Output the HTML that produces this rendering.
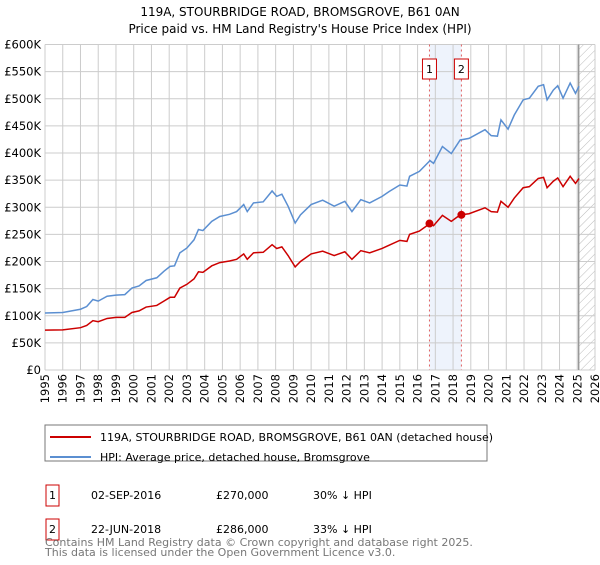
<!DOCTYPE html>
<html><head><meta charset="utf-8"><style>
body{margin:0;background:#fff;font-family:"Liberation Sans","DejaVu Sans",sans-serif;}
svg text{font-family:"DejaVu Sans","Liberation Sans",sans-serif;}
</style></head><body>
<svg id="c" width="600" height="560" xmlns="http://www.w3.org/2000/svg">
<defs><pattern id="hatch" width="6" height="6" patternUnits="userSpaceOnUse" patternTransform="rotate(45)"><line x1="0" y1="0" x2="0" y2="6" stroke="#bbb" stroke-width="1"/></pattern></defs>
<text x="300" y="16" text-anchor="middle" font-size="12" fill="#000">119A, STOURBRIDGE ROAD, BROMSGROVE, B61 0AN</text>
<text x="300" y="33" text-anchor="middle" font-size="12" fill="#000">Price paid vs. HM Land Registry's House Price Index (HPI)</text>
<g id="grid"></g><g id="marks"></g><g id="axes"></g>
<rect x="45" y="425" width="442" height="36" fill="#fff" stroke="#777"/>
<line x1="50" y1="437" x2="91" y2="437" stroke="#cc0000" stroke-width="2"/>
<text x="100" y="441" font-size="11">119A, STOURBRIDGE ROAD, BROMSGROVE, B61 0AN (detached house)</text>
<line x1="50" y1="457" x2="91" y2="457" stroke="#5b8fd1" stroke-width="2"/>
<text x="100" y="461" font-size="11">HPI: Average price, detached house, Bromsgrove</text>
<g>
<rect x="46" y="485" width="13" height="21" fill="#fff" stroke="#cc0000"/><text x="52.5" y="499" font-size="11" text-anchor="middle">1</text>
<text x="91" y="499" font-size="11">02-SEP-2016</text><text x="216" y="499" font-size="11">£270,000</text><text x="313" y="499" font-size="11">30% ↓ HPI</text></g>
<g>
<rect x="46" y="519" width="13" height="21" fill="#fff" stroke="#cc0000"/><text x="52.5" y="533" font-size="11" text-anchor="middle">2</text>
<text x="91" y="533" font-size="11">22-JUN-2018</text><text x="216" y="533" font-size="11">£286,000</text><text x="313" y="533" font-size="11">33% ↓ HPI</text></g>
<text x="45" y="546" font-size="11" fill="#777">Contains HM Land Registry data © Crown copyright and database right 2025.</text>
<text x="45" y="556" font-size="11" fill="#777">This data is licensed under the Open Government Licence v3.0.</text>
</svg>
<script>
const hpiYears=[1995,1996,1997,1997.35,1997.7,1998,1998.5,1999,1999.5,1999.9,2000.3,2000.7,2001.3,2001.7,2002.05,2002.3,2002.6,2003,2003.4,2003.65,2003.9,2004.4,2004.85,2005.4,2005.8,2006.2,2006.4,2006.75,2007.3,2007.8,2008.06,2008.35,2008.7,2009.1,2009.4,2010,2010.65,2011.3,2011.9,2012.3,2012.8,2013.3,2014,2014.4,2015,2015.4,2015.55,2016.1,2016.7,2016.9,2017.4,2017.9,2018.4,2018.9,2019.8,2020.15,2020.5,2020.7,2021.1,2021.45,2021.95,2022.3,2022.8,2023.1,2023.3,2023.65,2023.9,2024.2,2024.6,2024.9,2025.1];
const hpiValues=[105,106,112,117,130,127,136,138,139,151,155,165,170,182,191,192,216,225,240,259,257,274,283,287,292,305,292,308,310,330,320,324,302,271,286,305,313,302,311,292,314,308,320,329,341,339,357,366,386,381,412,399,424,427,443,432,431,461,444,470,498,501,523,526,498,516,524,501,529,510,523];
const propValues=[73.5,74,78,82,91,89,95,97,97,106,109,116,119,127,134,134,151,158,168,181,180,192,198,201,204,214,204,216,217,231,224,227,211,190,200,214,219,211,218,204,220,216,224,230,239,237,250,256,270,266,285,274,286,288,299,292,291,311,300,317,336,338,353,355,336,348,354,338,357,344,353];
const saleYears=[2016.67,2018.47];
const saleValues=[270,286];
const saleLabels=["1","2"];
const yTicks=[0,50,100,150,200,250,300,350,400,450,500,550,600];
const xTicks=[1995,1996,1997,1998,1999,2000,2001,2002,2003,2004,2005,2006,2007,2008,2009,2010,2011,2012,2013,2014,2015,2016,2017,2018,2019,2020,2021,2022,2023,2024,2025,2026];
const dataEnd=2025.08;
const X0=45,X1=595,Y0=370,Y1=44.5;
const x=y=>X0+(y-1995)/(2026-1995)*(X1-X0);
const y=v=>Y0-v/600*(Y0-Y1);
const NS="http://www.w3.org/2000/svg";
function mk(t,a,p){const e=document.createElementNS(NS,t);for(const k in a)e.setAttribute(k,a[k]);p.appendChild(e);return e;}
const G=document.getElementById('grid'),M=document.getElementById('marks'),A=document.getElementById('axes');
const band=mk('rect',{x:x(saleYears[0]),y:Y1,width:x(saleYears[1])-x(saleYears[0]),height:Y0-Y1,fill:'#eef3fc'},G);


const hat=mk('rect',{x:x(dataEnd),y:Y1,width:X1-x(dataEnd),height:Y0-Y1,fill:'url(#hatch)'},G);


yTicks.forEach(v=>{
 const l=mk('line',{x1:X0,x2:X1,y1:y(v),y2:y(v),stroke:'#ccc'},G);
 
 
 const t=mk('text',{x:X0-4,y:y(v)+4,'text-anchor':'end','font-size':'11.5'},A);
 t.textContent=v===0?'£0':'£'+v+'K';
 
 
});
xTicks.forEach(v=>{
 const l=mk('line',{x1:x(v),x2:x(v),y1:Y1,y2:Y0,stroke:'#ccc'},G);
 
 
 const t=mk('text',{x:0,y:0,'text-anchor':'end','font-size':'11.5',transform:`translate(${x(v)+4},${Y0+4}) rotate(-90)`},A);
 t.textContent=v;
 
 
});
const el=mk('line',{x1:x(dataEnd),x2:x(dataEnd),y1:Y1,y2:Y0,stroke:'#999','stroke-width':1.5},G);


saleYears.forEach((s,i)=>{
 const l=mk('line',{x1:x(s),x2:x(s),y1:Y1,y2:Y0,stroke:'#e06060','stroke-dasharray':'2,3'},M);
 
 
 const r=mk('rect',{x:x(s)-7,y:59,width:14,height:20,fill:'#fff',stroke:'#cc0000'},M);
 
 
 const t=mk('text',{x:x(s),y:73,'text-anchor':'middle','font-size':'11'},M);
 t.textContent=saleLabels[i];
 
 
});
const hp=mk('polyline',{points:hpiYears.map((t,i)=>x(t)+','+y(hpiValues[i])).join(' '),fill:'none',stroke:'#5b8fd1','stroke-width':1.5},M);


const pp=mk('polyline',{points:hpiYears.map((t,i)=>x(t)+','+y(propValues[i])).join(' '),fill:'none',stroke:'#cc0000','stroke-width':1.5},M);


saleYears.forEach((s,i)=>{
 const c=mk('circle',{cx:x(s),cy:y(saleValues[i]),r:4,fill:'#cc0000'},M);
 
 
});
</script>
</body></html>
